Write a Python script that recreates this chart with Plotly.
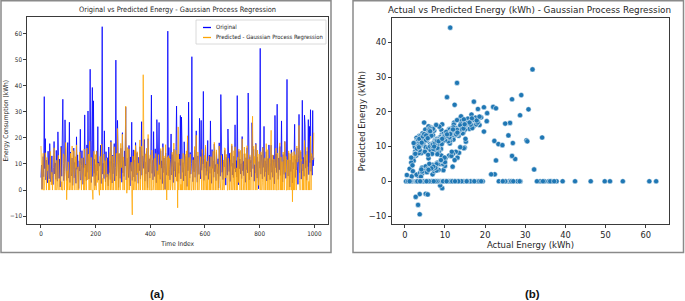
import plotly.graph_objects as go

# ---------------- data ----------------
time_index = list(range(0, 1000, 2))

original = [
    4.8, 9.6, 0.4, 6.3, 12.8, 5.1, 35.8, 8.2, 19.7, 3.9, 11.5, 5.6, 2.8, 14.9, 7.4, 4.3, 17.8, 9.1, 3.2, 6.9,
    13.1, 5.5, 2.1, 8.7, 18.6, 6.2, 10.4, 4.1, 15.2, 7.6, 3.4, 22.3, 7.0, 4.5, 11.9, 1.2, 9.3, 16.8, 5.3, 28.4,
    34.8, 10.2, 3.6, 7.2, 26.9, 13.8, 6.5, 3.7, 11.0, 18.2, 4.6, 8.4, 26.0, 2.9, 14.6, 6.8, 5.4, 12.3, 1.8, 8.0,
    16.1, 4.7, 10.6, 6.1, 2.6, 20.4, 7.9, 13.5, 5.0, 0.6, 11.2, 7.3, 23.3, 3.8, 9.5, 15.1, 5.9, 2.2, 12.4, 8.6,
    28.8, 5.2, 10.0, 3.6, 17.3, 6.8, 30.3, 11.1, 4.2, 14.0, 46.3, 9.0, 2.9, 19.1, 39.3, 5.2, 34.2, 6.4, 11.8, 1.7,
    9.8, 5.6, 15.0, 7.3, 24.3, 3.8, 10.8, 9.3, 9.4, 17.2, 2.5, 13.0, 62.6, 6.1, 10.3, 4.4, 22.7, 8.1, 3.1, 14.7,
    8.9, 4.9, 12.4, 1.6, 16.5, 6.7, 11.0, 4.0, 19.0, 7.9, 2.7, 13.4, 6.2, 10.5, 17.8, 3.5, 8.7, 49.8, 5.4, 11.7,
    26.7, 7.5, 1.0, 13.9, 9.8, 4.5, 16.0, 8.5, 3.0, 22.0, 6.6, 11.3, 5.2, 15.0, 9.2, 31.8, 3.9, 8.8, 12.2, 7.7,
    4.8, 17.1, 10.2, 1.6, 12.7, 7.2, 26.0, 3.7, 9.6, 15.4, 5.0, 11.5, 3.3, 18.2, 8.2, 5.8, 14.3, 10.1, 2.6, 12.6,
    7.4, 16.6, 4.2, 10.6, 26.2, 5.7, 13.1, 11.3, 8.3, 19.4, 3.4, 10.8, 6.2, 14.8, 9.5, 0.9, 19.7, 6.9, 12.0, 4.6,
    9.9, 14.6, 36.4, 6.4, 11.4, 3.9, 22.4, 7.8, 5.2, 15.8, 10.3, 2.8, 27.0, 9.1, 5.9, 13.2, 25.9, 7.6, 4.1, 15.1,
    8.4, 11.2, 2.5, 17.8, 6.7, 12.3, 9.3, 0.3, 14.2, 7.1, 5.7, 10.4, 60.9, 5.5, 16.3, 8.0, 3.9, 11.6, 21.5, 5.8,
    13.6, 8.7, 2.9, 15.7, 7.3, 10.9, 5.1, 16.8, 32.2, 9.7, 3.3, 10.5, 6.4, 13.8, 9.4, 28.6, 4.3, 28.0, 12.1, 6.8,
    10.5, 3.5, 18.5, 8.6, 5.4, 12.9, 11.0, 1.4, 18.2, 7.4, 33.7, 9.2, 4.6, 14.4, 6.1, 10.1, 51.1, 7.8, 3.2, 12.5,
    7.0, 15.3, 4.9, 10.6, 22.7, 8.1, 3.0, 13.1, 8.8, 6.0, 27.5, 11.3, 4.3, 26.7, 7.6, 14.0, 10.0, 37.8, 3.7, 11.8,
    8.5, 16.5, 5.6, 10.8, 7.2, 19.0, 4.1, 10.2, 13.4, 6.4, 26.5, 9.0, 2.6, 15.5, 8.3, 11.2, 4.9, 17.6, 7.0, 9.8,
    3.6, 14.5, 9.6, 6.3, 12.0, 0.8, 18.1, 7.9, 5.3, 36.6, 10.4, 6.8, 13.7, 4.0, 10.8, 8.9, 15.2, 5.9, 1.9, 12.6,
    7.8, 5.7, 23.4, 9.9, 7.1, 14.1, 3.3, 11.6, 9.1, 17.0, 5.8, 10.3, 4.8, 13.0, 8.2, 25.0, 6.9, 11.3, 5.0, 36.2,
    9.5, 2.0, 14.8, 8.1, 11.9, 6.2, 10.1, 4.4, 20.5, 7.4, 11.0, 5.5, 13.9, 8.8, 3.0, 12.4, 7.8, 16.2, 6.6, 37.2,
    10.0, 3.9, 12.8, 7.0, 11.4, 5.1, 25.8, 13.0, 8.2, 15.6, 3.4, 9.7, 6.5, 17.9, 9.0, 4.6, 12.7, 7.6, 0.5, 10.9,
    8.4, 54.3, 6.1, 13.5, 10.0, 4.3, 16.4, 8.7, 24.4, 5.2, 11.2, 6.9, 14.7, 3.5, 9.5, 12.1, 5.8, 17.3, 8.5, 4.0,
    10.7, 17.2, 6.8, 11.6, 4.9, 13.3, 8.9, 2.4, 28.6, 8.6, 13.8, 6.7, 32.9, 10.3, 4.1, 12.3, 7.8, 16.7, 5.6, 11.1,
    26.5, 7.5, 3.1, 13.6, 9.4, 6.0, 18.6, 9.9, 4.5, 11.8, 42.4, 8.0, 5.4, 14.2, 9.7, 1.2, 11.5, 7.1, 15.4, 6.3,
    2.7, 10.6, 8.1, 13.0, 25.2, 4.8, 11.7, 7.7, 16.1, 9.2, 2.2, 12.0, 29.0, 6.6, 10.4, 14.6, 4.2, 8.8, 34.4, 7.3,
    12.5, 5.3, 28.7, 25.0, 8.4, 11.3, 3.8, 14.9, 9.0, 27.0, 5.9, 24.4, 10.5, 30.8, 7.2, 13.1, 5.7, 30.5, 9.3, 12.4,
]

predicted = [
    16.9, 3.2, 0, 10.7, 14.1, 0, 0, 5.4, 14.3, 10.8, 0, 12.5, 7.4, 9.7, 0, 3.9, 0, 14.8, 9.6, 2.0,
    6.8, 0, 6.4, 12.6, 16.2, 12.9, 0, 8.1, 11.4, 0, 1.5, 11.6, 13.3, 0, 4.2, 3.6, 16.4, 0, 3.2, 0,
    0, 13.9, 13.1, 0, 11.0, 18.2, 15.5, -3.7, 7.4, 0, 10.8, 3.3, 0, 1.9, 14.1, 0, 11.7, 16.9, 0, 5.2,
    15.1, 11.4, 0, 12.8, 8.6, 17.3, 0, 8.2, 8.9, 0, 10.9, 14.6, 10.7, 2.4, 0, 12.2, 6.6, 5.9, 0, 15.7,
    0, 9.8, 4.4, 0, 16.1, 3.9, 11.8, 13.8, 0, 18.7, 0, 9.3, 12.5, 0, 0, -3.6, 12.6, 14.9, 0, 1.4,
    13.6, 0, 14.9, 2.9, 10.4, 10.1, 0, -2.0, 12.9, 0, 7.8, 17.6, 0, 4.5, 0, 13.8, 6.0, 11.3, 0, 9.5,
    12.3, 0, 6.1, 5.4, 0, 10.6, 14.4, 0, 18.4, 3.1, 0, 13.1, 9.2, 0, 16.6, 9.7, 5.0, 0, 14.1, 0,
    23.6, 11.8, 0, 14.2, 6.3, 0, 17.9, 8.6, 11.9, 21.4, 0, 12.7, 4.3, 0, 13.4, 32.2, 13.0, -1.2, 16.3, 0,
    12.4, 15.8, 0, 6.8, 8.5, 10.7, 0, -9.5, 13.0, 0, 2.9, 15.2, 0, 17.1, 9.0, 0, 14.7, 6.6, 10.3, 0,
    10.4, 19.2, 0, 12.1, 16.8, 14.6, 0, 44.2, 9.5, 0, 10.9, 13.9, 0, 16.0, 5.0, 0, 21.3, 4.7, 0, 12.0,
    13.5, 0, 0, 15.3, 12.8, 0, 2.0, 11.5, 12.2, 0, 14.0, 8.0, 0, 7.4, 0, 13.6, 0, 9.7, 0, 15.9,
    11.0, 0, 9.9, 16.4, 0, 13.1, 5.8, 0, 17.4, 3.6, -3.8, 12.6, 0, 13.2, 0, 12.2, 10.4, 0, 2.0, 9.6,
    14.5, 0, 11.3, 18.0, 10.9, 0, 14.9, 15.3, 3.4, 13.7, -6.8, 24.2, 0, 9.8, 11.9, 0, 2.2, 0, 12.0, 0,
    14.1, 8.1, 0, 10.6, 13.7, 0, 15.0, 0, 20.8, 9.1, 0, 12.5, 0, 13.8, 5.0, 0, 0, 11.4, 11.6, 0,
    15.0, 16.7, 0, 13.2, 21.0, 7.8, 0, 14.6, 12.7, 0, 6.4, 11.7, 12.8, 7.3, 0, 15.6, 5.5, 0, 9.0, 13.3,
    0, 17.2, 3.5, 0, 11.1, 0, 11.8, 13.0, 0, 9.0, 0, 12.8, 7.9, 0, 11.2, 14.9, 0, 18.3, 15.1, 0,
    12.2, 15.4, 0, 10.0, 7.9, 0, 16.9, 4.9, 0, 0, 13.3, 7.9, 0, 1.3, 11.5, 0, 16.2, 15.8, 4.6, 13.7,
    11.7, 0, 0, 12.2, 9.3, 0, 10.7, 14.3, 0, 17.7, 13.9, 0, 3.0, 15.1, 0, 16.6, 10.1, 0, 8.5, 0,
    12.6, 2.9, 15.7, 9.6, 0, 15.2, 13.4, 0, 19.6, 10.2, 0, 2.6, 16.5, 0, 9.4, 14.0, 0, 17.0, 13.1, 0,
    11.8, 0, 13.5, 10.6, 0, 12.7, 13.2, 28.3, 0, 16.8, 10.2, 12.9, 0, 17.5, 6.0, 0, 15.3, 3.9, 1.8, 13.8,
    0, 0, 14.7, 14.4, 0, 2.8, 16.3, 11.3, 0, 11.9, 12.4, 0, 17.8, 9.8, 0, 15.5, 7.6, 0, 12.1, 0,
    13.0, 22.9, 0, 7.3, 13.5, 0, 11.9, 11.0, 0, 10.8, 16.1, 0, 0, 14.2, 3.4, 0, 16.2, 18.1, 0, 12.7,
    0, 10.9, 0, 14.6, 11.4, 0, 18.6, 6.8, 12.9, 0, 0, 11.6, 0, 15.0, 12.6, 0, 13.9, 4.2, 0, 14.4,
    -4.5, 13.1, 0, 14.8, 0, 13.6, 8.5, 0, 16.9, 10.7, 11.0, 14.9, 24.8, 3.7, 0, 15.2, 11.1, 11.8, 0, 10.0,
    0, 13.2, 19.0, 0, 11.5, 13.6, 0, 16.4, 6.1, 0, 3.3, 0, 13.5, 20.7, 0, 14.0, 12.4, 11.5, 12.2, 22.0,
]

left_title = "Original vs Predicted Energy - Gaussian Process Regression"
right_title = "Actual vs Predicted Energy (kWh) - Gaussian Process Regression"
left_x_ticks = [0, 200, 400, 600, 800, 1000]
left_y_ticks = [-10, 0, 10, 20, 30, 40, 50, 60]
right_x_ticks = [0, 10, 20, 30, 40, 50, 60]
right_y_ticks = [-10, 0, 10, 20, 30, 40]

assert len(original) == len(predicted) == len(time_index)

# ---------------- layout helpers ----------------
W, H = 685, 301


def fx(p):
    return p / W


def fy(p):
    return 1 - p / H


NARROW = "Liberation Sans Narrow, DejaVu Sans Condensed, Liberation Sans, Arial, sans-serif"
DEJAVU = "DejaVu Sans, Verdana, sans-serif"
INK = "#262626"
SPINE = "#3a3a3a"

fig = go.Figure()
fig.add_trace(go.Scatter(x=time_index, y=original, mode="lines", name="Original",
                         line=dict(color="rgba(0,0,255,0.8)", width=1),
                         xaxis="x", yaxis="y", showlegend=False))
fig.add_trace(go.Scatter(x=time_index, y=predicted, mode="lines",
                         name="Predicted - Gaussian Process Regression",
                         line=dict(color="rgba(255,165,0,0.75)", width=1),
                         xaxis="x", yaxis="y", showlegend=False))
fig.add_trace(go.Scatter(x=original, y=predicted, mode="markers", name="GPR",
                         marker=dict(color="#1f77b4", size=5.2,
                                     line=dict(color="white", width=0.5)),
                         xaxis="x2", yaxis="y2", showlegend=False))

common_axis = dict(showline=True, mirror=True, linecolor=SPINE, linewidth=1,
                   ticks="outside", ticklen=3, tickwidth=1, tickcolor=SPINE,
                   showgrid=False, zeroline=False)

fig.update_layout(
    width=W, height=H, autosize=False,
    margin=dict(l=0, r=0, t=0, b=0),
    paper_bgcolor="white", plot_bgcolor="white",
    xaxis=dict(domain=[fx(27.3), fx(328)], anchor="y", range=[-50, 1050],
               tickvals=left_x_ticks, tickfont=dict(family=NARROW, size=6.3, color=INK),
               title=dict(text="Time Index", font=dict(family=NARROW, size=6.6, color=INK), standoff=5),
               **common_axis),
    yaxis=dict(domain=[fy(224), fy(17.3)], anchor="x", range=[-13, 66.2],
               tickvals=left_y_ticks, tickfont=dict(family=NARROW, size=6.3, color=INK),
               title=dict(text="Energy Consumption (kWh)", font=dict(family=NARROW, size=6.6, color=INK), standoff=0),
               **common_axis),
    xaxis2=dict(domain=[fx(392), fx(669)], anchor="y2", range=[-3.2, 65.8],
                tickvals=right_x_ticks, tickfont=dict(family=DEJAVU, size=8.3, color=INK),
                title=dict(text="Actual Energy (kWh)", font=dict(family=DEJAVU, size=8.5, color=INK), standoff=3),
                **common_axis),
    yaxis2=dict(domain=[fy(224), fy(18.3)], anchor="x2", range=[-12.3, 46.9],
                tickvals=right_y_ticks, tickfont=dict(family=DEJAVU, size=8.3, color=INK),
                title=dict(text="Predicted Energy (kWh)", font=dict(family=DEJAVU, size=8.5, color=INK), standoff=1),
                **common_axis),
)

shapes = [
    # panel frames
    dict(type="rect", xref="paper", yref="paper", x0=fx(1), x1=fx(331), y0=fy(252.5), y1=fy(0.7),
         line=dict(color="#8a8a8a", width=1.5), layer="below"),
    dict(type="rect", xref="paper", yref="paper", x0=fx(353), x1=fx(683.5), y0=fy(252.5), y1=fy(0.7),
         line=dict(color="#8a8a8a", width=1.5), layer="below"),
    # legend box for panel (a)
    dict(type="rect", xref="paper", yref="paper", x0=fx(196), x1=fx(326), y0=fy(44), y1=fy(20),
         line=dict(color="#d0d0d0", width=0.8), fillcolor="rgba(255,255,255,0.85)", layer="above"),
    dict(type="line", xref="paper", yref="paper", x0=fx(203), x1=fx(211), y0=fy(27.5), y1=fy(27.5),
         line=dict(color="blue", width=1.3), layer="above"),
    dict(type="line", xref="paper", yref="paper", x0=fx(203), x1=fx(211), y0=fy(37.5), y1=fy(37.5),
         line=dict(color="orange", width=1.3), layer="above"),
]
fig.update_layout(shapes=shapes)

annotations = [
    dict(text=left_title, x=fx(177.5), y=fy(10), xref="paper", yref="paper", showarrow=False,
         xanchor="center", yanchor="middle", font=dict(family=NARROW, size=7.4, color=INK)),
    dict(text=right_title, x=fx(529.5), y=fy(10.5), xref="paper", yref="paper", showarrow=False,
         xanchor="center", yanchor="middle", font=dict(family=DEJAVU, size=8.8, color=INK)),
    dict(text="Original", x=fx(214), y=fy(27.5), xref="paper", yref="paper", showarrow=False,
         xanchor="left", yanchor="middle", font=dict(family=NARROW, size=5.9, color=INK)),
    dict(text="Predicted - Gaussian Process Regression", x=fx(214), y=fy(37.5), xref="paper", yref="paper",
         showarrow=False, xanchor="left", yanchor="middle", font=dict(family=NARROW, size=5.9, color=INK)),
    dict(text="<b>(a)</b>", x=fx(157), y=fy(294), xref="paper", yref="paper", showarrow=False,
         xanchor="center", yanchor="middle", font=dict(family="Liberation Sans, Arial, sans-serif", size=11.5, color="#111")),
    dict(text="<b>(b)</b>", x=fx(532), y=fy(294), xref="paper", yref="paper", showarrow=False,
         xanchor="center", yanchor="middle", font=dict(family="Liberation Sans, Arial, sans-serif", size=11.5, color="#111")),
]
fig.update_layout(annotations=annotations)

fig.write_html("out.html", config={"displayModeBar": False},
               post_script="document.body.style.margin='0';document.body.style.padding='0';"
                           "document.body.style.overflow='hidden';")
